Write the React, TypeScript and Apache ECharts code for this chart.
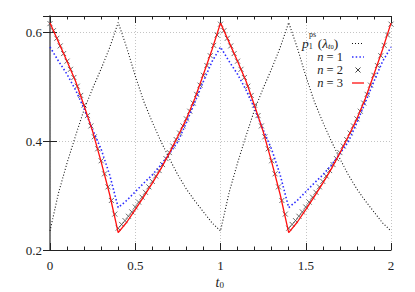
import React, { useEffect, useRef } from "react";
import * as echarts from "echarts";

const tLine = [
  0, 0.05, 0.1, 0.15, 0.2, 0.25, 0.3, 0.35, 0.4, 0.45, 0.5, 0.55, 0.6, 0.65, 0.7, 0.75, 0.8, 0.85, 0.9, 0.95,
  1, 1.05, 1.1, 1.15, 1.2, 1.25, 1.3, 1.35, 1.4, 1.45, 1.5, 1.55, 1.6, 1.65, 1.7, 1.75, 1.8, 1.85, 1.9, 1.95, 2,
];

const p1ps = [
  0.235, 0.305, 0.36, 0.41, 0.458, 0.497, 0.533, 0.572, 0.618, 0.572, 0.52, 0.473, 0.435, 0.4, 0.368, 0.338, 0.312, 0.29, 0.27, 0.25,
  0.235, 0.305, 0.36, 0.41, 0.458, 0.497, 0.533, 0.572, 0.618, 0.572, 0.52, 0.473, 0.435, 0.4, 0.368, 0.338, 0.312, 0.29, 0.27, 0.25,
  0.235,
];

const n1 = [
  0.573, 0.547, 0.523, 0.494, 0.46, 0.421, 0.385, 0.338, 0.278, 0.291, 0.307, 0.323, 0.338, 0.356, 0.377, 0.399, 0.434, 0.472, 0.51, 0.546,
  0.573, 0.547, 0.523, 0.494, 0.46, 0.421, 0.385, 0.338, 0.278, 0.291, 0.307, 0.323, 0.338, 0.356, 0.377, 0.399, 0.434, 0.472, 0.51, 0.546,
  0.573,
];

const n3 = [
  0.617, 0.582, 0.547, 0.51, 0.465, 0.418, 0.362, 0.302, 0.232, 0.251, 0.274, 0.298, 0.323, 0.349, 0.378, 0.409, 0.441, 0.479, 0.523, 0.568,
  0.617, 0.582, 0.547, 0.51, 0.465, 0.418, 0.362, 0.302, 0.232, 0.251, 0.274, 0.298, 0.323, 0.349, 0.378, 0.409, 0.441, 0.479, 0.523, 0.568,
  0.617,
];

const tMark = [
  0, 0.02, 0.04, 0.06, 0.08, 0.1, 0.12, 0.14, 0.16, 0.18, 0.2, 0.22, 0.24, 0.26, 0.28, 0.3, 0.32, 0.34, 0.36, 0.38,
  0.4, 0.42, 0.44, 0.46, 0.48, 0.5, 0.52, 0.54, 0.56, 0.58, 0.6, 0.62, 0.64, 0.66, 0.68, 0.7, 0.72, 0.74, 0.76, 0.78,
  0.8, 0.82, 0.84, 0.86, 0.88, 0.9, 0.92, 0.94, 0.96, 0.98, 1, 1.02, 1.04, 1.06, 1.08, 1.1, 1.12, 1.14, 1.16, 1.18,
  1.2, 1.22, 1.24, 1.26, 1.28, 1.3, 1.32, 1.34, 1.36, 1.38, 1.4, 1.42, 1.44, 1.46, 1.48, 1.5, 1.52, 1.54, 1.56, 1.58,
  1.6, 1.62, 1.64, 1.66, 1.68, 1.7, 1.72, 1.74, 1.76, 1.78, 1.8, 1.82, 1.84, 1.86, 1.88, 1.9, 1.92, 1.94, 1.96, 1.98, 2,
];

const n2 = [
  0.616, 0.603, 0.589, 0.575, 0.561, 0.547, 0.532, 0.517, 0.501, 0.484, 0.466, 0.447, 0.428, 0.408, 0.386, 0.364, 0.34, 0.316, 0.291, 0.266,
  0.24, 0.247, 0.254, 0.262, 0.27, 0.279, 0.288, 0.297, 0.306, 0.316, 0.326, 0.336, 0.346, 0.357, 0.368, 0.379, 0.391, 0.403, 0.415, 0.428,
  0.441, 0.455, 0.47, 0.486, 0.503, 0.521, 0.539, 0.557, 0.576, 0.595, 0.615, 0.603, 0.589, 0.575, 0.561, 0.547, 0.532, 0.517, 0.501, 0.484,
  0.466, 0.447, 0.428, 0.408, 0.386, 0.364, 0.34, 0.316, 0.291, 0.266, 0.24, 0.247, 0.254, 0.262, 0.27, 0.279, 0.288, 0.297, 0.306, 0.316,
  0.326, 0.336, 0.346, 0.357, 0.368, 0.379, 0.391, 0.403, 0.415, 0.428, 0.441, 0.455, 0.47, 0.486, 0.503, 0.521, 0.539, 0.557, 0.576, 0.595, 0.615,
];

const xTicks = [0, 0.5, 1, 1.5, 2];
const yTicks = [0.2, 0.4, 0.6];
const legendN = ["1", "2", "3"];

const FONT = "'Liberation Serif', 'DejaVu Serif', serif";
const XMARK = "path://M0,0L10,10M10,0L0,10";
const INK = "#222";

export default function App() {
  const ref = useRef<HTMLDivElement>(null);
  useEffect(() => {
    if (!ref.current) return;
    const chart = echarts.init(ref.current, null, { renderer: "svg" });
    const fmtX = (v: number) => (xTicks.includes(v) ? String(v) : "");
    const fmtY = (v: number) => (yTicks.some((t) => Math.abs(t - v) < 1e-9) ? String(Number(v.toFixed(1))) : "");
    const lbl = { fontFamily: FONT, fontSize: 13, color: INK };
    const gridLine = { show: true, lineStyle: { color: "#c4c4c4", type: [1, 2] as any, width: 1 } };
    const big = { fontFamily: FONT, fontSize: 13.5, lineHeight: 13, fill: INK, color: INK };
    const bigI = { ...big, fontStyle: "italic" };
    const sub = { fontFamily: FONT, fontSize: 8, lineHeight: 8, verticalAlign: "bottom", color: INK };
    const subI = { fontFamily: FONT, fontSize: 9, lineHeight: 9, verticalAlign: "bottom", fontStyle: "italic", color: INK };
    const sub0 = { fontFamily: FONT, fontSize: 6.5, lineHeight: 6.5, verticalAlign: "bottom", color: INK };
    const richP = { p: bigI, o: big, l: bigI, s: sub, t: subI, z: sub0, g: { width: 5, fontSize: 8 } };
    const nSize = { fontFamily: FONT, fontSize: 12.5, lineHeight: 13, color: INK };
    const richN = { i: { ...nSize, fontStyle: "italic" }, r: nSize };
    const richX = { t: { ...bigI, fontSize: 14, lineHeight: 14 }, z: { fontFamily: FONT, fontSize: 9, lineHeight: 9, verticalAlign: "bottom", color: INK } };
    const nRows = legendN.map((k, i) => ({
      type: "text", right: 72, top: 50.5 + i * 13,
      style: { text: `{i|n}{r| = ${k}}`, rich: richN, ...nSize, fill: INK, align: "right" },
    }));
    chart.setOption({
      animation: false,
      backgroundColor: "#fff",
      grid: { left: 50, right: 24, top: 16, bottom: 42 },
      xAxis: [
        {
          type: "value", min: 0, max: 2, interval: 0.5, position: "bottom",
          axisLine: { show: true, lineStyle: { color: INK, width: 1.2 } },
          axisTick: { show: true, inside: true, length: 7, lineStyle: { color: INK } },
          minorTick: { show: true, splitNumber: 5, length: 3.5, lineStyle: { color: INK } },
          axisLabel: { ...lbl, margin: 9, formatter: fmtX },
          splitLine: gridLine,
        },
        {
          type: "value", min: 0, max: 2, interval: 0.5, position: "top",
          axisLine: { show: true, lineStyle: { color: INK, width: 1.2 } },
          axisTick: { show: true, inside: true, length: 7, lineStyle: { color: INK } },
          minorTick: { show: true, splitNumber: 5, length: 3.5, lineStyle: { color: INK } },
          axisLabel: { show: false },
          splitLine: { show: false },
        },
      ],
      yAxis: [
        {
          type: "value", min: 0.2, max: 0.63, interval: 0.2, position: "left",
          axisLine: { show: true, lineStyle: { color: "#777", width: 1.5 } },
          axisTick: { show: true, inside: true, length: 7, lineStyle: { color: INK } },
          axisLabel: { ...lbl, margin: 8, formatter: fmtY, showMaxLabel: false },
          splitLine: gridLine,
        },
        {
          type: "value", min: 0.2, max: 0.63, interval: 0.2, position: "right",
          axisLine: { show: true, lineStyle: { color: "#777", width: 1.5 } },
          axisTick: { show: true, inside: true, length: 7, lineStyle: { color: INK } },
          axisLabel: { show: false },
          splitLine: { show: false },
        },
      ],
      series: [
        {
          name: "p1ps", type: "line", showSymbol: false, symbol: "none",
          data: tLine.map((t, i) => [t, p1ps[i]]),
          lineStyle: { color: "#111", width: 1.1, type: [1, 2] },
        },
        {
          name: "n = 1", type: "line", showSymbol: false, symbol: "none",
          data: tLine.map((t, i) => [t, n1[i]]),
          lineStyle: { color: "#2b2bff", width: 1.6, type: [1.5, 2.2] },
        },
        {
          name: "n = 2", type: "scatter", symbol: XMARK, symbolSize: 5,
          data: tMark.map((t, i) => [t, n2[i]]),
          itemStyle: { color: "none", borderColor: "#444", borderWidth: 1 },
        },
        {
          name: "n = 3", type: "line", showSymbol: false, symbol: "none",
          data: tLine.map((t, i) => [t, n3[i]]),
          lineStyle: { color: "#ff1010", width: 1.3 },
        },
      ],
      graphic: [
        // x axis name t_0
        { type: "text", left: 215.5, top: 275, style: { text: "{t|t}{z|0}", rich: richX, ...bigI } },
        // legend row 1: p_1^ps(lambda_t0)
        { type: "text", left: 302, top: 36.5, style: { text: "{p|p}{s|1}{g|}{o|(}{l|λ}{t|t}{z|0}{o|)}", rich: richP, ...big } },
        { type: "text", left: 309, top: 30, style: { text: "ps", fontFamily: FONT, fontSize: 8, lineHeight: 6, fill: INK } },
        { type: "line", shape: { x1: 352, y1: 43.5, x2: 364, y2: 43.5 }, style: { stroke: "#111", lineWidth: 1.1, lineDash: [1, 2] } },
        // legend rows n = 1..3
        ...nRows,
        { type: "line", shape: { x1: 352, y1: 57, x2: 364, y2: 57 }, style: { stroke: "#2b2bff", lineWidth: 1.6, lineDash: [1.5, 2.2] } },
        { type: "line", shape: { x1: 355.5, y1: 67.5, x2: 360.5, y2: 72.5 }, style: { stroke: "#444", lineWidth: 1 } },
        { type: "line", shape: { x1: 360.5, y1: 67.5, x2: 355.5, y2: 72.5 }, style: { stroke: "#444", lineWidth: 1 } },
        { type: "line", shape: { x1: 352, y1: 83, x2: 364, y2: 83 }, style: { stroke: "#ff1010", lineWidth: 1.3 } },
      ],
    });
    return () => chart.dispose();
  }, []);
  return <div ref={ref} style={{ width: 415, height: 292, position: "absolute", left: 0, top: 0 }} />;
}
